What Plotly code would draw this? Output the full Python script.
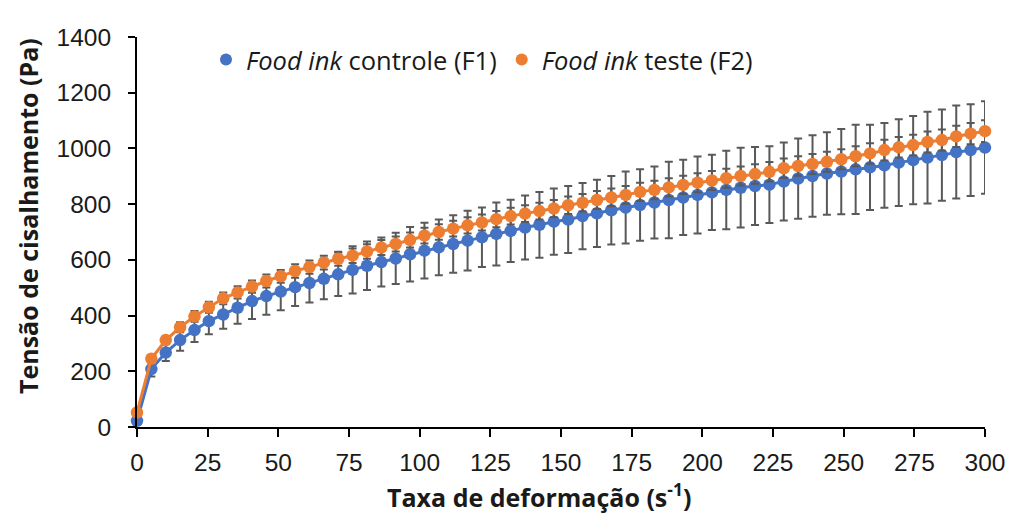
import plotly.graph_objects as go

# Shear rate (s^-1)
shear_rate = [0.00, 5.08, 10.17, 15.25, 20.34, 25.42, 30.51, 35.59, 40.68, 45.76,
              50.85, 55.93, 61.02, 66.10, 71.19, 76.27, 81.36, 86.44, 91.53, 96.61,
              101.69, 106.78, 111.86, 116.95, 122.03, 127.12, 132.20, 137.29, 142.37, 147.46,
              152.54, 157.63, 162.71, 167.80, 172.88, 177.97, 183.05, 188.14, 193.22, 198.31,
              203.39, 208.47, 213.56, 218.64, 223.73, 228.81, 233.90, 238.98, 244.07, 249.15,
              254.24, 259.32, 264.41, 269.49, 274.58, 279.66, 284.75, 289.83, 294.92, 300.00]

# Food ink controle (F1)
f1_stress = [22, 208, 267, 312, 348, 380, 404, 428, 452, 470,
             486, 502, 517, 532, 548, 564, 579, 592, 605, 620,
             633, 645, 657, 669, 681, 693, 704, 716, 726, 737,
             745, 757, 767, 778, 788, 797, 806, 815, 824, 833,
             842, 851, 859, 865, 870, 881, 892, 901, 910, 917,
             925, 932, 939, 949, 958, 967, 976, 987, 994, 1003]
f1_err = [5, 27, 30, 38, 43, 47, 51, 57, 64, 67,
          67, 68, 70, 73, 78, 85, 87, 88, 92, 98,
          100, 100, 103, 107, 107, 113, 112, 115, 118, 119,
          120, 119, 121, 123, 129, 128, 129, 137, 135, 138,
          135, 141, 143, 140, 138, 140, 144, 146, 148, 153,
          160, 153, 152, 156, 158, 165, 164, 167, 165, 166]

# Food ink teste (F2)
f2_stress = [52, 245, 312, 358, 397, 430, 462, 483, 504, 524,
             541, 560, 574, 590, 604, 615, 630, 644, 657, 671,
             687, 700, 712, 724, 734, 746, 757, 766, 775, 784,
             796, 805, 815, 824, 833, 844, 851, 860, 869, 877,
             885, 893, 901, 908, 916, 929, 937, 944, 952, 961,
             972, 982, 994, 1004, 1012, 1023, 1030, 1043, 1053, 1062]
f2_err = [8, 12, 14, 18, 19, 20, 21, 22, 22, 23,
          23, 24, 24, 25, 25, 26, 26, 27, 27, 27,
          28, 28, 28, 29, 29, 29, 30, 30, 30, 31,
          31, 31, 32, 32, 32, 33, 33, 33, 33, 34,
          34, 34, 34, 35, 35, 35, 35, 36, 36, 36,
          36, 37, 37, 37, 37, 38, 38, 38, 38, 39]

series_names = ["<i>Food ink</i> controle (F1)", "<i>Food ink</i> teste (F2)"]
x_ticks = [0, 25, 50, 75, 100, 125, 150, 175, 200, 225, 250, 275, 300]
y_ticks = [0, 200, 400, 600, 800, 1000, 1200, 1400]

BLUE = "#4472C4"
ORANGE = "#ED7D31"
ERR = "#595959"
TXT = "#1a1a1a"

# plot area in screen pixels (page has an 8px body margin)
PL, PR, PT, PB = 137, 985, 37, 427
W_PLOT, H_PLOT = PR - PL, PB - PT

fig = go.Figure()

for ys, es, col in [(f1_stress, f1_err, BLUE), (f2_stress, f2_err, ORANGE)]:
    fig.add_trace(go.Scatter(
        x=shear_rate, y=ys, mode="lines+markers",
        line=dict(color=col, width=3),
        marker=dict(color=col, size=12.5),
        error_y=dict(type="data", array=es, visible=True, color=ERR,
                     thickness=2, width=4),
        showlegend=False, cliponaxis=False,
    ))

# legend entries (markers only, like the reference)
for name, col in zip(series_names, [BLUE, ORANGE]):
    fig.add_trace(go.Scatter(
        x=[None], y=[None], mode="markers", name=name,
        marker=dict(color=col, size=12.5),
    ))

fig.update_layout(
    width=1030, height=529,
    margin=dict(l=PL - 8, r=1030 - (PR - 8), t=PT - 8, b=529 - (PB - 8)),
    paper_bgcolor="white", plot_bgcolor="white",
    font=dict(family="Liberation Sans, Arial", color=TXT, size=24),
    showlegend=True,
    legend=dict(
        orientation="h", x=(206 - PL) / W_PLOT, xanchor="left",
        y=(PB - 60) / H_PLOT, yanchor="middle",
        font=dict(family="Open Sans", size=25.5, color=TXT),
        bgcolor="rgba(0,0,0,0)", itemsizing="constant", tracegroupgap=0,
    ),
    xaxis=dict(
        range=[0, 300], tickmode="array", tickvals=x_ticks,
        ticktext=[str(t) for t in x_ticks],
        showgrid=False, zeroline=False,
        showline=True, linecolor="black", linewidth=2,
        ticks="outside", ticklen=8, tickwidth=2, tickcolor="black",
        tickfont=dict(family="Liberation Sans, Arial", size=24.5, color=TXT),
        ticklabelstandoff=5,
    ),
    yaxis=dict(
        range=[0, 1400], tickmode="array", tickvals=y_ticks,
        ticktext=[str(t) for t in y_ticks],
        showgrid=False, zeroline=False,
        showline=True, linecolor="black", linewidth=2,
        ticks="outside", ticklen=7, tickwidth=2, tickcolor="black",
        tickfont=dict(family="Liberation Sans, Arial", size=24.5, color=TXT),
        ticklabelstandoff=12,
    ),
    annotations=[
        dict(text="Taxa de deformação (s<sup>-1</sup>)", xref="paper", yref="paper",
             x=(539 - PL) / W_PLOT, y=-(495 - PB) / H_PLOT, xanchor="center", yanchor="middle",
             showarrow=False, font=dict(family="Open Sans", size=25, color=TXT, weight="bold")),
        dict(text="Tensão de cisalhamento (Pa)", xref="paper", yref="paper",
             x=-(PL - 28) / W_PLOT, y=(PB - 216) / H_PLOT, xanchor="center", yanchor="middle",
             textangle=-90, showarrow=False,
             font=dict(family="Open Sans", size=25, color=TXT, weight="bold")),
    ],
)

fig.write_html("out.html")
